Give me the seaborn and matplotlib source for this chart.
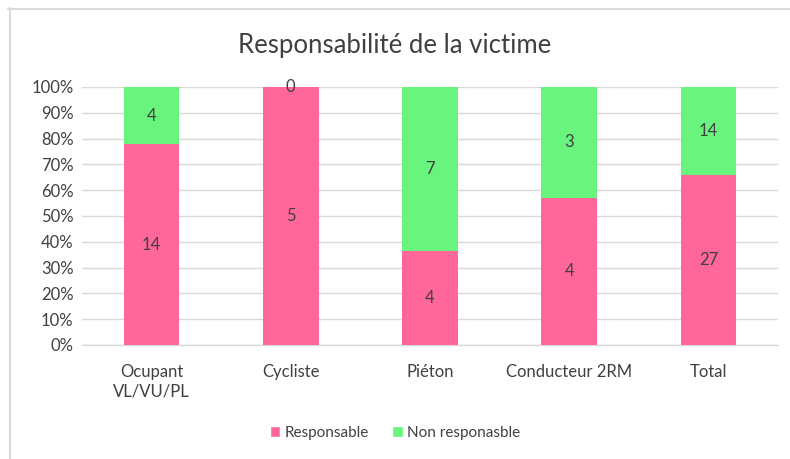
import matplotlib
matplotlib.use("Agg")
import matplotlib.pyplot as plt
import seaborn as sns
import pandas as pd
import numpy as np
from matplotlib.lines import Line2D
from matplotlib.patches import Patch

categories = ["Ocupant\nVL/VU/PL", "Cycliste", "Piéton", "Conducteur 2RM", "Total"]
responsable = [14, 5, 4, 4, 27]
non_responsable = [4, 0, 7, 3, 14]
yticks = [0, 10, 20, 30, 40, 50, 60, 70, 80, 90, 100]

PINK = "#FF6699"
GREEN = "#69F57D"
TXT = "#404040"
GRID = "#D9D9D9"

sns.set_theme(style="white")
plt.rcParams['font.family'] = ['Lato', 'DejaVu Sans']

tot = np.array(responsable) + np.array(non_responsable)
df = pd.DataFrame({
    "cat": categories,
    "resp_pct": np.array(responsable) / tot * 100,
    "total_pct": np.full(len(categories), 100.0),
})

fig = plt.figure(figsize=(7.9, 4.59), dpi=100)
ax = fig.add_axes([0.1038, 0.2484, 0.9848 - 0.1038, 0.8105 - 0.2484])

sns.barplot(data=df, x="cat", y="total_pct", color=GREEN, width=0.4,
            saturation=1, ax=ax, zorder=3, linewidth=0, edgecolor="none")
sns.barplot(data=df, x="cat", y="resp_pct", color=PINK, width=0.4,
            saturation=1, ax=ax, zorder=3, linewidth=0, edgecolor="none")

ax.set_xlim(-0.5, len(categories) - 0.5)
ax.set_ylim(0, 100)
ax.set_yticks(yticks)
ax.set_yticklabels([f"{v}%" for v in yticks])
ax.yaxis.grid(True, color=GRID, linewidth=1, zorder=0)
ax.set_axisbelow(True)
for s in ["top", "right", "left"]:
    ax.spines[s].set_visible(False)
ax.spines["bottom"].set_color(GRID)
ax.spines["bottom"].set_linewidth(1)
ax.tick_params(axis="both", length=0, colors=TXT, labelsize=12)
ax.tick_params(axis="x", pad=14)
ax.tick_params(axis="y", pad=6)
ax.set_xlabel("")
ax.set_ylabel("")

for i in range(len(categories)):
    rp = df["resp_pct"][i]
    ax.text(i, rp / 2, str(responsable[i]), ha="center", va="center",
            color=TXT, fontsize=12, zorder=5)
    ax.text(i, rp + (100 - rp) / 2, str(non_responsable[i]), ha="center",
            va="center", color=TXT, fontsize=12, zorder=5)

fig.text(0.5, 1 - 45 / 459, "Responsabilité de la victime", ha="center",
         va="center", fontsize=18.5, color=TXT)

handles = [Patch(facecolor=PINK, label="Responsable"),
           Patch(facecolor=GREEN, label="Non responasble")]
fig.legend(handles=handles, loc="center", bbox_to_anchor=(0.5, 1 - 433 / 459),
           ncol=2, frameon=False, fontsize=11, handlelength=0.7,
           handleheight=0.7, handletextpad=0.3, columnspacing=1.5,
           labelcolor=TXT)

# chart border (top and left edges visible)
fig.add_artist(Line2D([8 / 790, 1], [1 - 8.5 / 459, 1 - 8.5 / 459],
                      transform=fig.transFigure, color="#D9D9D9", lw=1.5))
fig.add_artist(Line2D([9.5 / 790, 9.5 / 790], [0, 1 - 8 / 459],
                      transform=fig.transFigure, color="#D9D9D9", lw=1.5))

fig.savefig("out.png", dpi=100)
